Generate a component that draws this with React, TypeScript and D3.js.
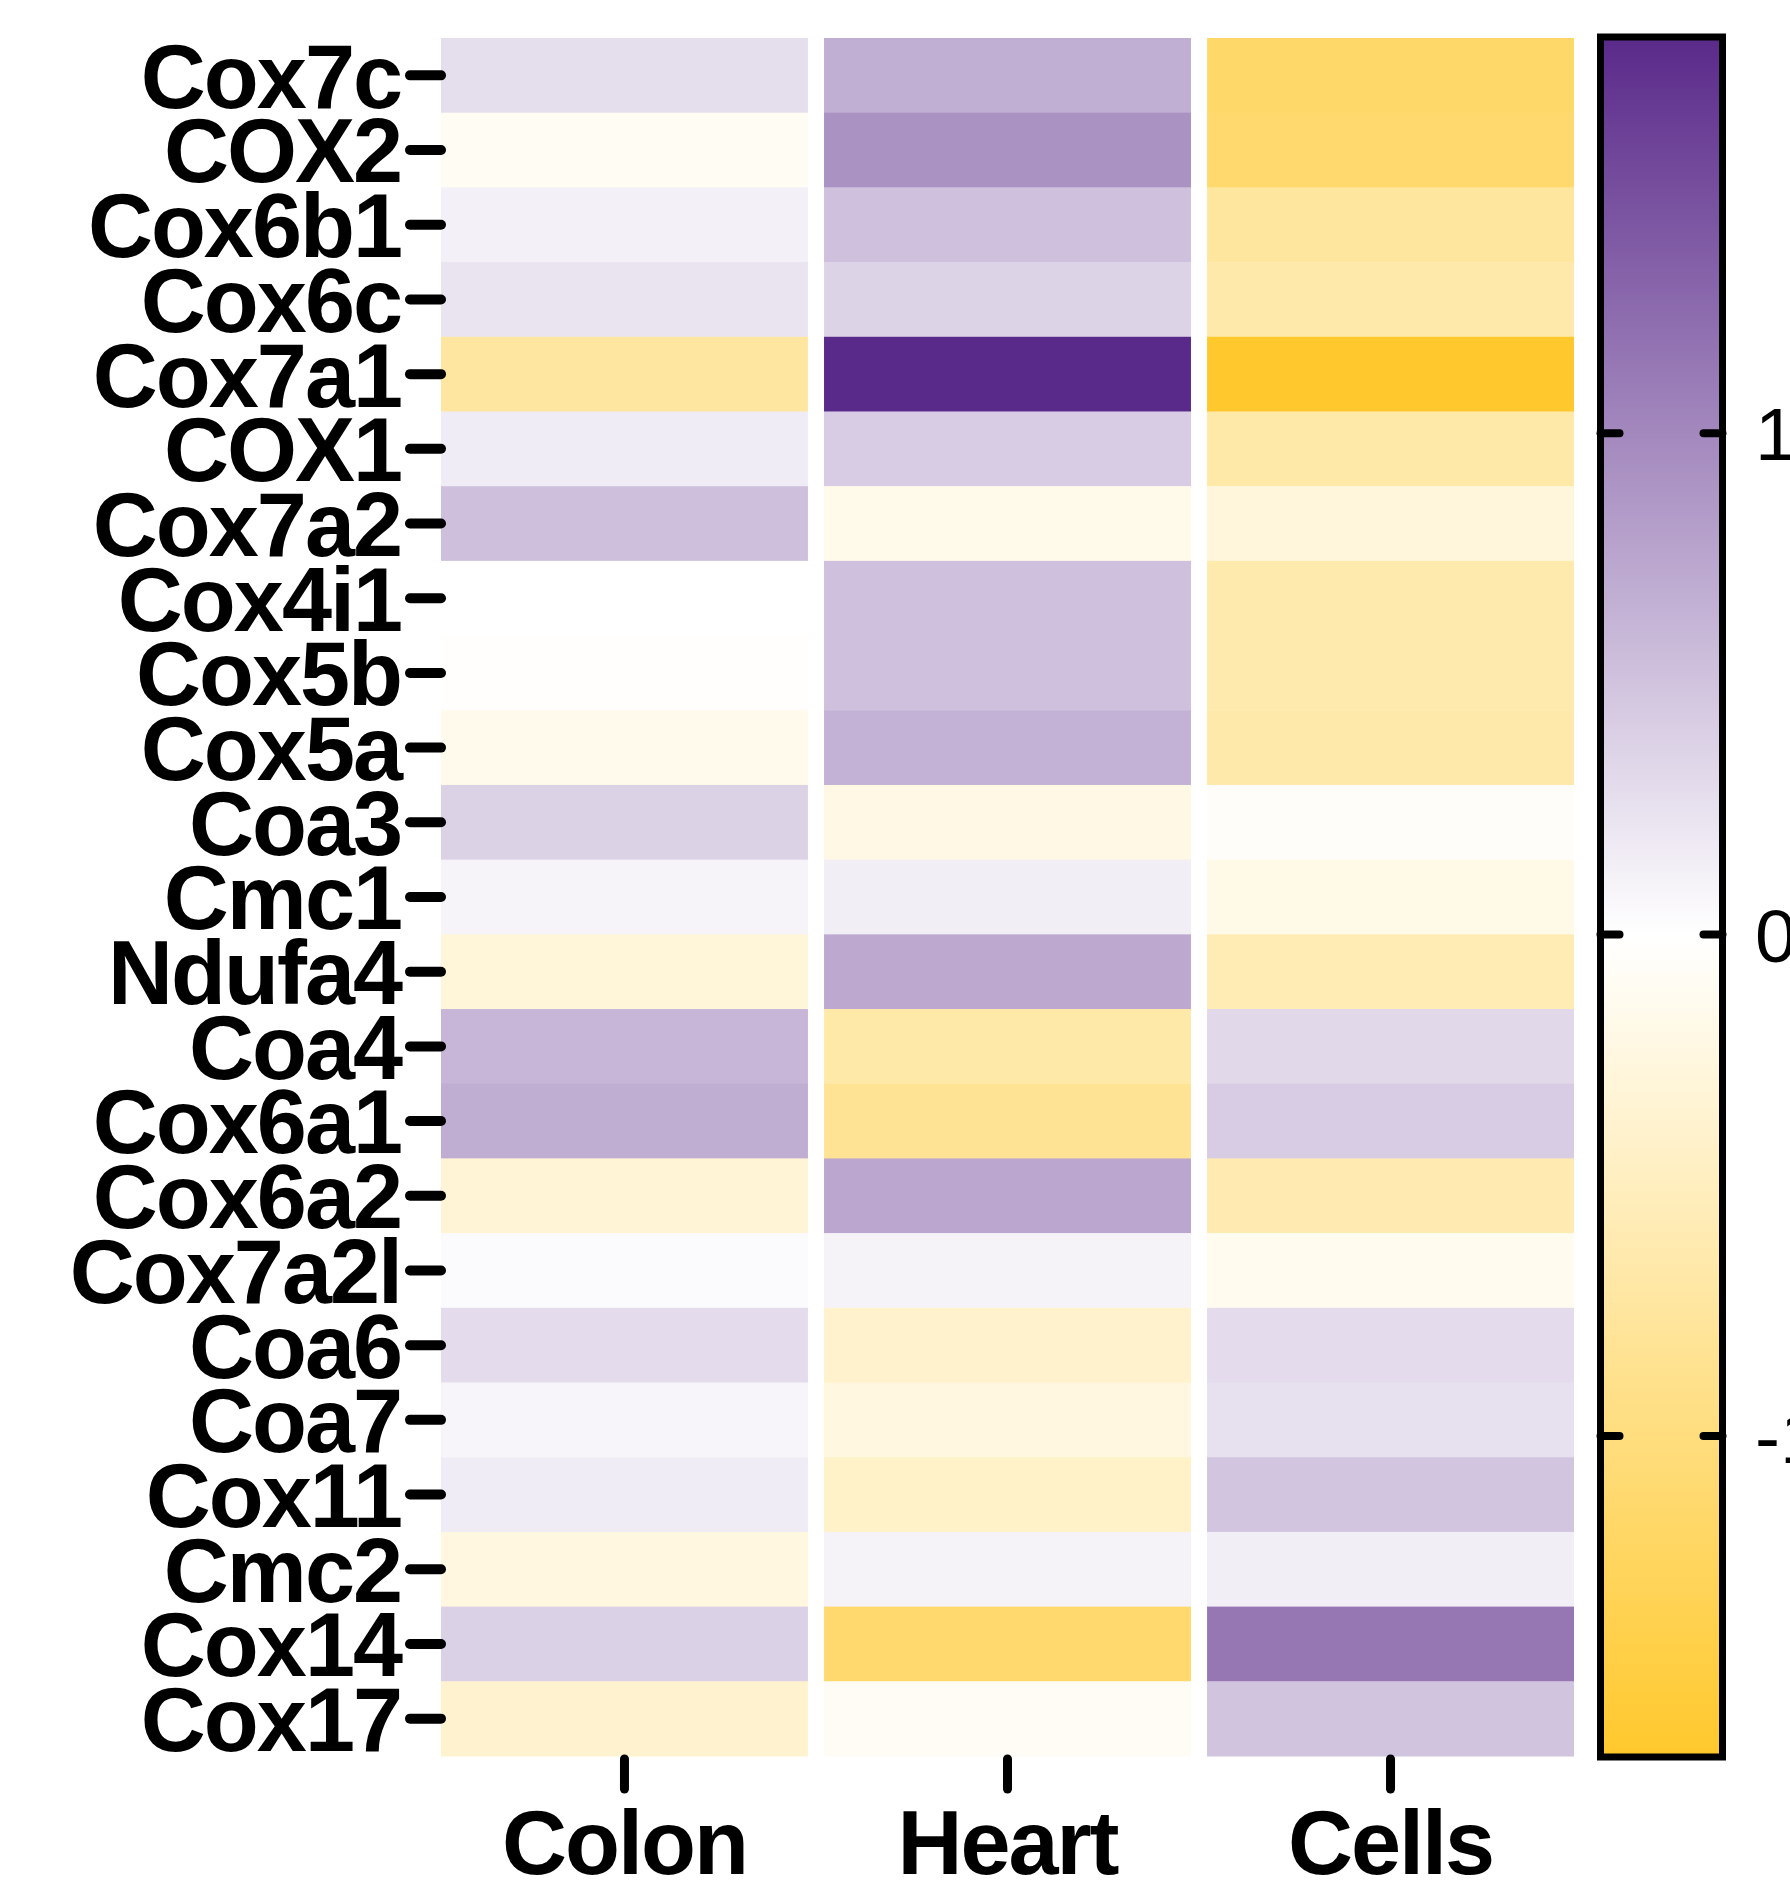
import * as d3 from 'd3';
import React, { useEffect, useRef } from 'react';

// genes top -> bottom
const genes = [
  'Cox7c', 'COX2', 'Cox6b1', 'Cox6c', 'Cox7a1', 'COX1', 'Cox7a2', 'Cox4i1',
  'Cox5b', 'Cox5a', 'Coa3', 'Cmc1', 'Ndufa4', 'Coa4', 'Cox6a1', 'Cox6a2',
  'Cox7a2l', 'Coa6', 'Coa7', 'Cox11', 'Cmc2', 'Cox14', 'Cox17',
];
const tissues = ['Colon', 'Heart', 'Cells'];

// z-scores, one array per column
const colon = [
  0.28, -0.09, 0.13, 0.23, -0.74, 0.16, 0.53, 0.0,
  -0.02, -0.15, 0.38, 0.09, -0.30, 0.61, 0.69, -0.32,
  0.04, 0.29, 0.08, 0.16, -0.25, 0.39, -0.37,
];
const heart = [
  0.68, 0.92, 0.52, 0.37, 1.79, 0.43, -0.16, 0.52,
  0.52, 0.65, -0.21, 0.14, 0.72, -0.67, -0.83, 0.75,
  0.10, -0.39, -0.24, -0.43, 0.11, -1.13, -0.08,
];
const cells = [
  -1.16, -1.13, -0.75, -0.66, -1.64, -0.67, -0.27, -0.64,
  -0.63, -0.66, -0.05, -0.19, -0.58, 0.33, 0.43, -0.60,
  -0.13, 0.29, 0.26, 0.49, 0.14, 1.14, 0.50,
];

const colorMin = -1.64;
const colorMax = 1.79;
const colorTicks = [-1, 0, 1];

const W = 1790;
const H = 1889;
const FONT = '"Liberation Sans", Arial, Helvetica, sans-serif';

export default function App() {
  const ref = useRef<SVGSVGElement>(null);

  useEffect(() => {
    const svg = d3.select(ref.current);
    svg.selectAll('*').remove();

    const columns = [colon, heart, cells];
    const cellsData = [];
    tissues.forEach((t, j) => {
      genes.forEach((g, i) => {
        cellsData.push({ gene: g, tissue: t, value: columns[j][i] });
      });
    });

    const x = d3.scaleBand().domain(tissues).range([441, 1574]).paddingInner(0.042).paddingOuter(0);
    const y = d3.scaleBand().domain(genes).range([38, 1756]).padding(0);

    const color = d3.scaleLinear<string>()
      .domain([colorMin, 0, colorMax])
      .range(['#ffc82c', '#ffffff', '#5a2a8a'])
      .interpolate(d3.interpolateRgb);

    // heatmap cells
    svg.append('g')
      .selectAll('rect')
      .data(cellsData)
      .enter().append('rect')
      .attr('x', d => x(d.tissue))
      .attr('y', d => y(d.gene))
      .attr('width', x.bandwidth())
      .attr('height', y.bandwidth() + 0.5)
      .attr('fill', d => color(d.value));

    // left axis (gene names)
    const yAxis = svg.append('g');
    yAxis.selectAll('line')
      .data(genes)
      .enter().append('line')
      .attr('x1', 410)
      .attr('x2', 441)
      .attr('y1', d => y(d) + y.bandwidth() / 2)
      .attr('y2', d => y(d) + y.bandwidth() / 2)
      .attr('stroke', '#000')
      .attr('stroke-width', 10)
      .attr('stroke-linecap', 'round');
    yAxis.selectAll('text')
      .data(genes)
      .enter().append('text')
      .attr('x', 401)
      .attr('y', d => y(d) + y.bandwidth() / 2)
      .attr('dy', '0.36em')
      .attr('text-anchor', 'end')
      .attr('font-family', FONT)
      .attr('font-weight', 'bold')
      .attr('font-size', 90)
      .attr('letter-spacing', -2)
      .text(d => d);

    // bottom axis (tissues)
    const xAxis = svg.append('g');
    xAxis.selectAll('line')
      .data(tissues)
      .enter().append('line')
      .attr('x1', d => x(d) + x.bandwidth() / 2)
      .attr('x2', d => x(d) + x.bandwidth() / 2)
      .attr('y1', 1759)
      .attr('y2', 1789)
      .attr('stroke', '#000')
      .attr('stroke-width', 9)
      .attr('stroke-linecap', 'round');
    xAxis.selectAll('text')
      .data(tissues)
      .enter().append('text')
      .attr('x', d => x(d) + x.bandwidth() / 2)
      .attr('y', 1874)
      .attr('text-anchor', 'middle')
      .attr('font-family', FONT)
      .attr('font-weight', 'bold')
      .attr('font-size', 90)
      .attr('letter-spacing', -2)
      .text(d => d);

    // colour bar, same height as the heatmap
    const barX = 1600.5, barW = 122;
    const cy = d3.scaleLinear().domain([colorMin, colorMax]).range([1757, 37]);

    const grad = svg.append('defs').append('linearGradient')
      .attr('id', 'cbar')
      .attr('x1', 0).attr('y1', 1).attr('x2', 0).attr('y2', 0);
    grad.append('stop').attr('offset', '0%').attr('stop-color', color(colorMin));
    grad.append('stop').attr('offset', (-colorMin / (colorMax - colorMin) * 100) + '%').attr('stop-color', color(0));
    grad.append('stop').attr('offset', '100%').attr('stop-color', color(colorMax));

    svg.append('rect')
      .attr('x', barX)
      .attr('y', cy(colorMax))
      .attr('width', barW)
      .attr('height', cy(colorMin) - cy(colorMax))
      .attr('fill', 'url(#cbar)')
      .attr('stroke', '#000')
      .attr('stroke-width', 7);

    const cAxis = svg.append('g');
    colorTicks.forEach(t => {
      cAxis.append('line')
        .attr('x1', barX).attr('x2', barX + 19)
        .attr('y1', cy(t)).attr('y2', cy(t))
        .attr('stroke', '#000').attr('stroke-width', 8).attr('stroke-linecap', 'round');
      cAxis.append('line')
        .attr('x1', barX + barW - 19).attr('x2', barX + barW)
        .attr('y1', cy(t)).attr('y2', cy(t))
        .attr('stroke', '#000').attr('stroke-width', 8).attr('stroke-linecap', 'round');
      cAxis.append('text')
        .attr('x', 1755)
        .attr('y', cy(t))
        .attr('dy', '0.36em')
        .attr('font-family', FONT)
        .attr('font-size', 75)
        .text(String(t));
    });
  }, []);

  return (
    <div style={{ position: 'absolute', left: 0, top: 0 }}>
      <svg ref={ref} width={W} height={H} style={{ display: 'block', background: '#fff' }} />
    </div>
  );
}
